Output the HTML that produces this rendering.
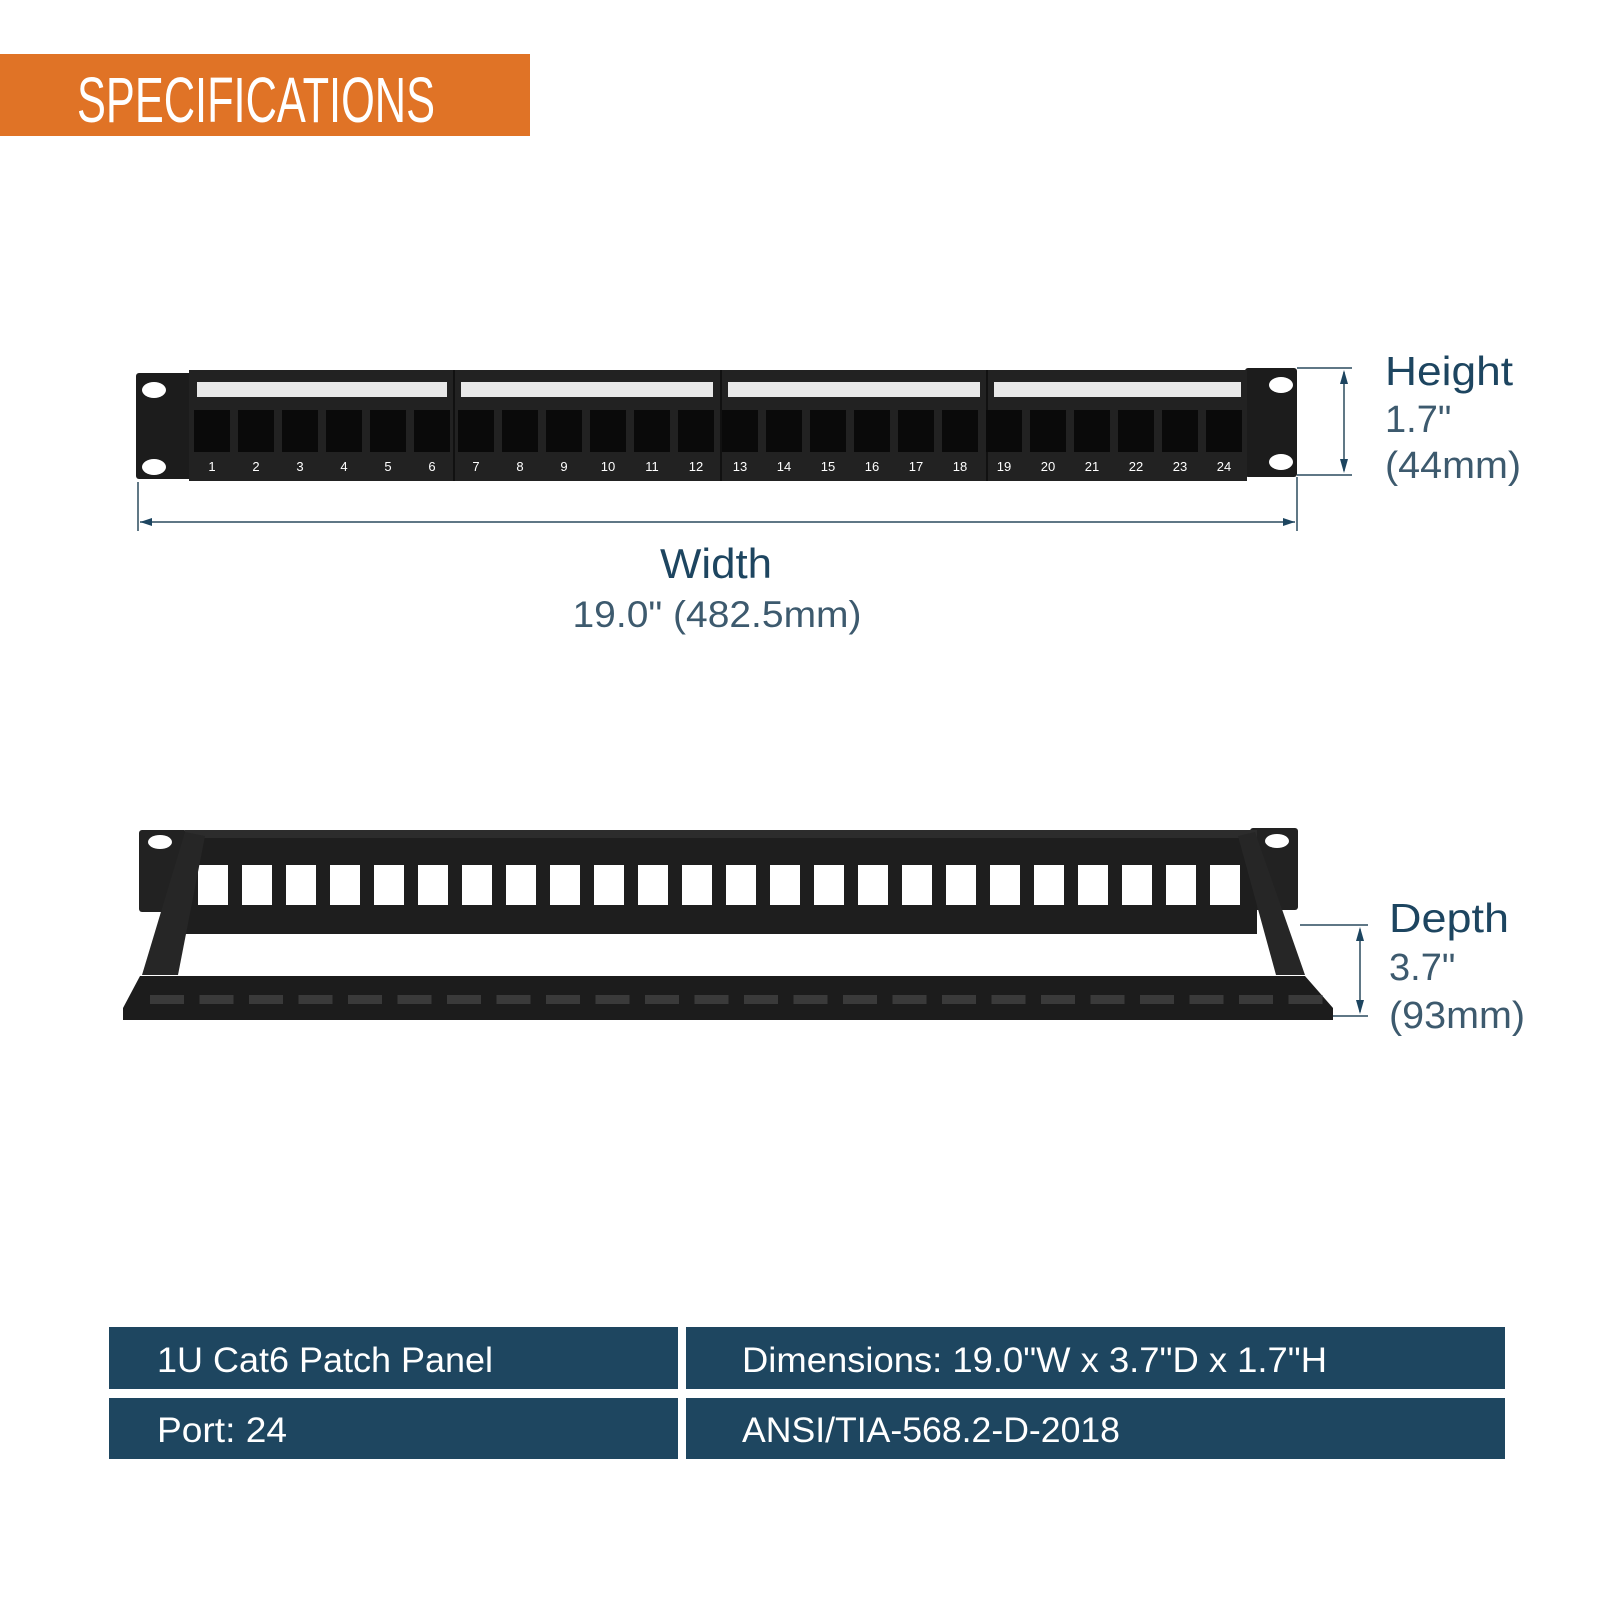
<!DOCTYPE html>
<html><head><meta charset="utf-8"><style>html,body{margin:0;padding:0;background:#fff}svg{display:block}</style></head>
<body>
<svg width="1600" height="1600" viewBox="0 0 1600 1600" xmlns="http://www.w3.org/2000/svg" font-family="Liberation Sans, DejaVu Sans, sans-serif">
<rect x="0" y="54" width="530" height="82" fill="#e07326"/>
<text x="77" y="122" font-size="64" fill="#fff" textLength="358" lengthAdjust="spacingAndGlyphs">SPECIFICATIONS</text>

<g>
<rect x="136" y="373" width="56" height="106" rx="3" fill="#1c1c1c"/>
<rect x="1245" y="368" width="52" height="109" rx="3" fill="#1c1c1c"/>
<ellipse cx="154" cy="390" rx="12" ry="8" fill="#fff"/>
<ellipse cx="154" cy="467" rx="12" ry="8" fill="#fff"/>
<ellipse cx="1281" cy="385" rx="12" ry="8" fill="#fff"/>
<ellipse cx="1281" cy="462" rx="12" ry="8" fill="#fff"/>
<rect x="189" y="370" width="1058" height="111" fill="#222"/>
<g stroke="#111" stroke-width="2"><line x1="454" y1="370" x2="454" y2="481"/><line x1="721" y1="370" x2="721" y2="481"/><line x1="987" y1="370" x2="987" y2="481"/></g>
<g fill="#e8e8e8">
<rect x="197" y="382" width="250" height="15"/><rect x="461" y="382" width="252" height="15"/><rect x="728" y="382" width="252" height="15"/><rect x="994" y="382" width="247" height="15"/>
</g>
<g id="ports" fill="#0a0a0a"></g>
<g id="nums" fill="#fff" font-size="13" text-anchor="middle"></g>
</g>

<g stroke="#2a4a5e" stroke-width="1.5" fill="none">
<line x1="138" y1="482" x2="138" y2="531"/><line x1="1297" y1="477" x2="1297" y2="531"/>
<line x1="140" y1="522" x2="1295" y2="522"/>
<line x1="1297" y1="368" x2="1352" y2="368"/><line x1="1297" y1="475" x2="1352" y2="475"/>
<line x1="1344" y1="372" x2="1344" y2="471"/>
<line x1="1300" y1="925" x2="1368" y2="925"/><line x1="1318" y1="1016" x2="1368" y2="1016"/>
<line x1="1360" y1="929" x2="1360" y2="1012"/>
</g>
<g fill="#1d4560">
<path d="M140 522 l12 -4 v8z"/><path d="M1295 522 l-12 -4 v8z"/>
<path d="M1344 370 l-4 14 h8z"/><path d="M1344 473 l-4 -14 h8z"/>
<path d="M1360 927 l-4 14 h8z"/><path d="M1360 1014 l-4 -14 h8z"/>
</g>
<text x="716" y="578" font-size="42" fill="#1d4560" text-anchor="middle" textLength="112" lengthAdjust="spacingAndGlyphs">Width</text>
<text x="717" y="627" font-size="37" fill="#3d5a6e" text-anchor="middle" textLength="289" lengthAdjust="spacingAndGlyphs">19.0" (482.5mm)</text>
<text x="1385" y="385" font-size="41" fill="#1d4560" textLength="128" lengthAdjust="spacingAndGlyphs">Height</text>
<text x="1385" y="432" font-size="38" fill="#3d5a6e">1.7"</text>
<text x="1385" y="478" font-size="38" fill="#3d5a6e" textLength="136" lengthAdjust="spacingAndGlyphs">(44mm)</text>
<text x="1389" y="932" font-size="41" fill="#1d4560" textLength="120" lengthAdjust="spacingAndGlyphs">Depth</text>
<text x="1389" y="980" font-size="38" fill="#3d5a6e">3.7"</text>
<text x="1389" y="1028" font-size="38" fill="#3d5a6e" textLength="136" lengthAdjust="spacingAndGlyphs">(93mm)</text>

<g>
<rect x="139" y="830" width="48" height="82" rx="3" fill="#222"/>
<rect x="1250" y="828" width="48" height="82" rx="3" fill="#222"/>
<ellipse cx="160" cy="842" rx="12" ry="7" fill="#fff"/>
<ellipse cx="1277" cy="841" rx="12" ry="7" fill="#fff"/>
<rect x="185" y="830" width="1072" height="104" fill="#1e1e1e"/>
<rect x="185" y="830" width="1072" height="8" fill="#2c2c2c"/>
<g id="bports" fill="#fff"></g>
<path d="M185 832 L205 836 L178 975 L142 975 Z" fill="#262626"/>
<path d="M1255 832 L1238 836 L1276 975 L1305 975 Z" fill="#262626"/>
<path d="M140 976 L1305 976 L1333 1008 L1333 1020 L123 1020 L123 1008 Z" fill="#1c1c1c"/>
<g id="tray" fill="#3a3a3a"></g>
</g>

<g fill="#1e4660">
<rect x="109" y="1327" width="569" height="62"/><rect x="686" y="1327" width="819" height="62"/>
<rect x="109" y="1398" width="569" height="61"/><rect x="686" y="1398" width="819" height="61"/>
</g>
<g fill="#fff" font-size="35">
<text x="157" y="1372" textLength="336" lengthAdjust="spacingAndGlyphs">1U Cat6 Patch Panel</text>
<text x="742" y="1372" textLength="585" lengthAdjust="spacingAndGlyphs">Dimensions: 19.0"W x 3.7"D x 1.7"H</text>
<text x="157" y="1442" textLength="130" lengthAdjust="spacingAndGlyphs">Port: 24</text>
<text x="742" y="1442" textLength="378" lengthAdjust="spacingAndGlyphs">ANSI/TIA-568.2-D-2018</text>
</g>
</svg>
<script>
var ns="http://www.w3.org/2000/svg";
function el(p,t,a,txt){var e=document.createElementNS(ns,t);for(var k in a)e.setAttribute(k,a[k]);if(txt)e.textContent=txt;document.getElementById(p).appendChild(e);}
for(var i=0;i<24;i++){
 var cx=212+i*44;
 el("ports","rect",{x:cx-18,y:410,width:36,height:42});
 el("nums","text",{x:cx,y:471},String(i+1));
 var bx=213+i*44;
 el("bports","rect",{x:bx-15,y:865,width:30,height:40});
 var tx=150+i*49.5;
 el("tray","rect",{x:tx,y:995,width:34,height:9});
}
</script>
</body></html>
